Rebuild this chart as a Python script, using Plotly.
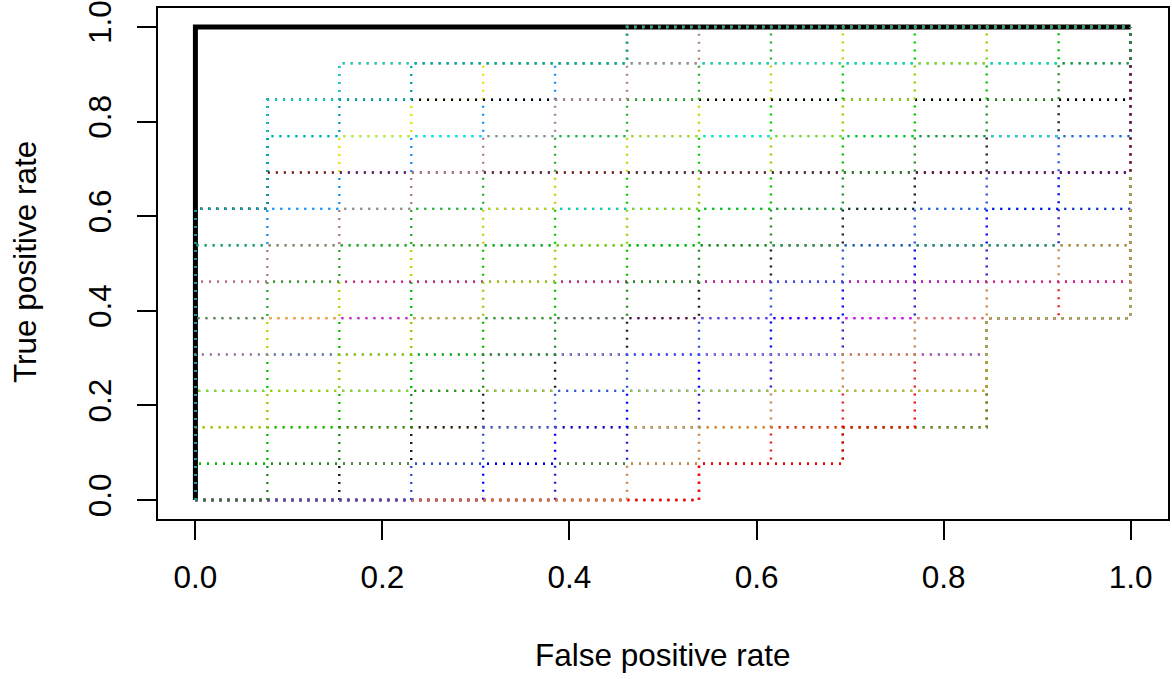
import plotly.graph_objects as go

# Counts: 13 negatives, 13 positives
N_NEG = 13
N_POS = 13

# Each ROC run: number of true positives reached before each false-positive step (13 steps)
runs = [
    [0, 0, 0, 0, 0, 0, 0, 1, 1, 2, 2, 5, 5],
    [3, 4, 5, 6, 7, 8, 9, 10, 11, 12, 13, 13, 13],
    [8, 8, 8, 8, 8, 8, 8, 8, 8, 8, 8, 8, 8],
    [0, 0, 0, 0, 0, 1, 2, 3, 4, 5, 6, 7, 8],
    [2, 2, 2, 2, 2, 2, 2, 2, 2, 2, 2, 5, 5],
    [7, 8, 9, 10, 11, 12, 13, 13, 13, 13, 13, 13, 13],
    [0, 0, 0, 0, 0, 0, 0, 1, 2, 3, 4, 5, 6],
    [5, 5, 5, 5, 5, 5, 5, 5, 5, 5, 5, 5, 5],
    [8, 11, 12, 12, 12, 12, 13, 13, 13, 13, 13, 13, 13],
    [0, 0, 1, 2, 3, 4, 5, 6, 7, 8, 9, 10, 11],
    [8, 10, 10, 10, 10, 10, 10, 10, 10, 10, 10, 10, 10],
    [1, 1, 1, 1, 1, 1, 1, 1, 1, 2, 2, 5, 5],
    [4, 5, 6, 7, 8, 9, 10, 11, 12, 13, 13, 13, 13],
    [0, 0, 0, 0, 1, 2, 3, 4, 5, 6, 7, 8, 9],
    [7, 7, 7, 7, 7, 7, 7, 7, 7, 7, 7, 7, 7],
    [8, 9, 10, 11, 12, 12, 13, 13, 13, 13, 13, 13, 13],
    [0, 0, 0, 0, 0, 0, 0, 1, 1, 2, 3, 5, 5],
    [4, 4, 4, 4, 4, 4, 4, 4, 4, 4, 4, 5, 5],
    [1, 2, 3, 4, 5, 6, 7, 8, 9, 10, 11, 12, 13],
    [8, 11, 11, 11, 11, 11, 11, 11, 11, 11, 11, 11, 11],
    [0, 0, 0, 0, 0, 0, 1, 2, 3, 4, 5, 6, 7],
    [6, 6, 6, 6, 6, 6, 6, 6, 6, 6, 6, 6, 6],
    [5, 6, 7, 8, 9, 10, 11, 12, 13, 13, 13, 13, 13],
    [3, 3, 3, 3, 3, 3, 3, 3, 3, 3, 3, 5, 5],
    [0, 0, 0, 1, 2, 3, 4, 5, 6, 7, 8, 9, 10],
    [8, 11, 12, 12, 12, 12, 12, 12, 12, 12, 12, 12, 12],
    [2, 3, 4, 5, 6, 7, 8, 9, 10, 11, 12, 13, 13],
    [8, 9, 9, 9, 9, 9, 9, 9, 9, 9, 9, 9, 9],
    [0, 1, 2, 3, 4, 5, 6, 7, 8, 9, 10, 11, 12],
    [6, 7, 8, 9, 10, 11, 12, 13, 13, 13, 13, 13, 13],
    [8, 10, 11, 12, 12, 12, 13, 13, 13, 13, 13, 13, 13],
]

run_colors = [
    "#9C8FA8", "#00CD00", "#00CDCD", "#2020D0", "#D4AA20", "#1E90FF",
    "#E02020", "#FF00FF", "#FF7F30", "#1C1C1C", "#00E5EE", "#4E8B2E",
    "#CDCD00", "#0000FF", "#22A84A", "#E8E000", "#FF0000", "#9370DB",
    "#00C000", "#000000", "#CD853F", "#D020A0", "#2EAD2E", "#9ACD32",
    "#3050E0", "#00D0D0", "#8FD000", "#6B0A40", "#228B22", "#B08080",
    "#00A5AD",
]

# Perfect classifier run (thick black)
perfect_run = [13] * 13

tick_vals = [0.0, 0.2, 0.4, 0.6, 0.8, 1.0]
tick_text = ["0.0", "0.2", "0.4", "0.6", "0.8", "1.0"]


def staircase(h):
    xs, ys = [0.0], [0.0]
    cur = 0
    for i, v in enumerate(h):
        if v != cur:
            xs.append(i / N_NEG)
            ys.append(v / N_POS)
            cur = v
        xs.append((i + 1) / N_NEG)
        ys.append(v / N_POS)
    if cur != N_POS:
        xs.append(1.0)
        ys.append(1.0)
    return xs, ys


fig = go.Figure()

px_, py_ = staircase(perfect_run)
fig.add_trace(go.Scatter(x=px_, y=py_, mode="lines",
                         line=dict(color="black", width=5),
                         hoverinfo="skip", showlegend=False))

for h, c in zip(runs, run_colors):
    xs, ys = staircase(h)
    fig.add_trace(go.Scatter(x=xs, y=ys, mode="lines",
                             line=dict(color=c, width=2.4, dash="2px,6px"),
                             hoverinfo="skip", showlegend=False))

font_family = "Liberation Sans, Arial, sans-serif"
axis_common = dict(
    range=[-0.04, 1.04], tickvals=tick_vals, ticktext=tick_text,
    showgrid=False, zeroline=False, showline=True, linecolor="black",
    linewidth=1.5, mirror=True, ticks="outside", ticklen=19, tickwidth=1.5,
    tickcolor="black", tickfont=dict(family=font_family, size=31.5, color="black"),
    automargin=False,
)

fig.update_layout(
    width=1172, height=679,
    margin=dict(l=158, r=4, t=8, b=160),
    paper_bgcolor="white", plot_bgcolor="white",
    xaxis=dict(**axis_common, ticklabelstandoff=10),
    yaxis=dict(**axis_common, tickangle=-90, ticklabelstandoff=14),
    annotations=[
        dict(text="False positive rate", xref="paper", yref="paper",
             x=0.5, y=(519 - 655) / 511, showarrow=False,
             font=dict(family=font_family, size=31.5, color="black"),
             xanchor="center", yanchor="middle"),
        dict(text="True positive rate", xref="paper", yref="paper",
             x=(25 - 158) / 1010, y=0.5 + (263.5 - 262) / 511, showarrow=False, textangle=-90,
             font=dict(family=font_family, size=31.5, color="black"),
             xanchor="center", yanchor="middle"),
    ],
)

fig.write_html(
    "out.html",
    config={"displayModeBar": False},
    post_script="document.body.style.margin='0';document.body.style.padding='0';"
                "document.body.style.overflow='hidden';",
)
